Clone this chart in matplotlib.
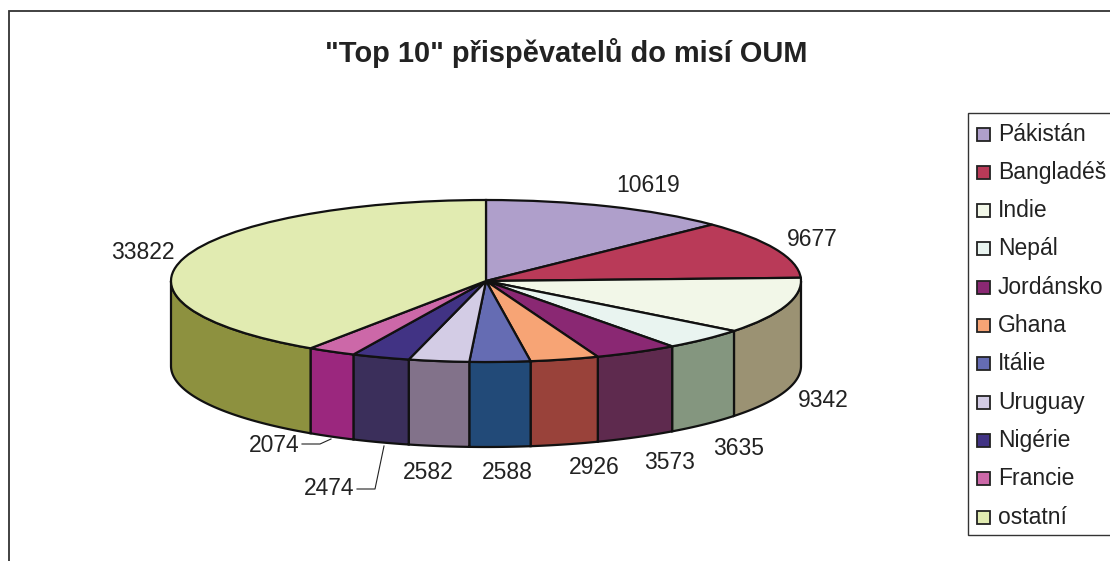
import numpy as np
import matplotlib
matplotlib.use('Agg')
from matplotlib import pyplot as plt
from matplotlib.patches import Polygon, Rectangle

plt.rcParams['font.family'] = ['Liberation Sans', 'DejaVu Sans']

title = '"Top 10" přispěvatelů do misí OUM'
states = ['Pákistán', 'Bangladéš', 'Indie', 'Nepál', 'Jordánsko', 'Ghana', 'Itálie',
          'Uruguay', 'Nigérie', 'Francie', 'ostatní']
values = [10619, 9677, 9342, 3635, 3573, 2926, 2588, 2582, 2474, 2074, 33822]
top_colors = ['#AF9FCB', '#B93A58', '#F2F7E8', '#E9F4F0', '#8A2873', '#F7A475', '#656CB3',
              '#D3CCE5', '#413384', '#CC68A8', '#E1EBB1']
side_colors = ['#7A6F8E', '#82293E', '#9B9273', '#84967F', '#5E2A4E', '#99423A', '#224A78',
               '#82728A', '#3B2F5B', '#9B277E', '#8D913F']

# pixel sizes of the tilted pie
W, H = 1110, 561
cx, cy, rx, ry, depth = 486, 281, 315, 81, 85
ink = '#222222'

fig = plt.figure(figsize=(W / 100, H / 100), dpi=100)

# pie axes: one data unit is the ellipse radius
ax = fig.add_axes([0, 0, 1, 1])
wedges, _ = ax.pie(values, colors=top_colors, startangle=90, counterclock=False,
                   wedgeprops={'edgecolor': '#111111', 'linewidth': 1.6})
ax.set_aspect('auto')
ax.set_xlim(-cx / rx, (W - cx) / rx)
ax.set_ylim((cy - H) / ry, cy / ry)

# side wall, only the part of each slice that faces the viewer
drop = depth / ry
edges = np.cumsum([0] + values) / sum(values) * 360
for i in range(len(values)):
    a = max(edges[i], 90)
    b = min(edges[i + 1], 270)
    if a >= b:
        continue
    t = np.radians(np.linspace(a, b, 60))
    x = np.sin(t)
    y = np.cos(t)
    pts = np.vstack([np.column_stack([x, y]), np.column_stack([x[::-1], y[::-1] - drop])])
    ax.add_patch(Polygon(pts, closed=True, facecolor=side_colors[i], edgecolor='#111111',
                         linewidth=1.6, zorder=0.5))

# overlay in pixels for the texts, frame and legend
ov = fig.add_axes([0, 0, 1, 1], facecolor='none')
ov.set_xlim(0, W)
ov.set_ylim(H, 0)
ov.axis('off')

ov.plot([8.5, 8.5, W], [H, 10.5, 10.5], color='#333333', lw=1.3, solid_joinstyle='miter')
ov.text(566, 53, title, fontsize=20.9, fontweight='bold', color=ink, ha='center', va='center')

label_pos = [(648, 185), (812, 239), (823, 400), (739, 448), (670, 462), (594, 467),
             (507, 472), (428, 472), (329, 488), (274, 445), (143, 252)]
for v, (px, py) in zip(values, label_pos):
    ov.text(px, py, str(v), fontsize=16.5, color=ink, ha='center', va='center')

ov.plot([302, 320, 331], [444, 444, 439], color=ink, lw=0.8)
ov.plot([357, 375, 384], [489, 489, 446], color=ink, lw=0.8)

# legend box runs off the right edge like in the original
ov.plot([W, 967.5, 967.5, W], [113, 113, 535, 535], color='#333333', lw=1.0,
        solid_joinstyle='miter')
for i, name in enumerate(states):
    row = 134 + i * 38.3
    ov.add_patch(Rectangle((977, row - 6.5), 13, 13, facecolor=top_colors[i],
                           edgecolor='#222222', lw=1.3))
    ov.text(998, row, name, fontsize=16.5, color=ink, ha='left', va='center')

fig.savefig('out.png', dpi=100, facecolor='white')
